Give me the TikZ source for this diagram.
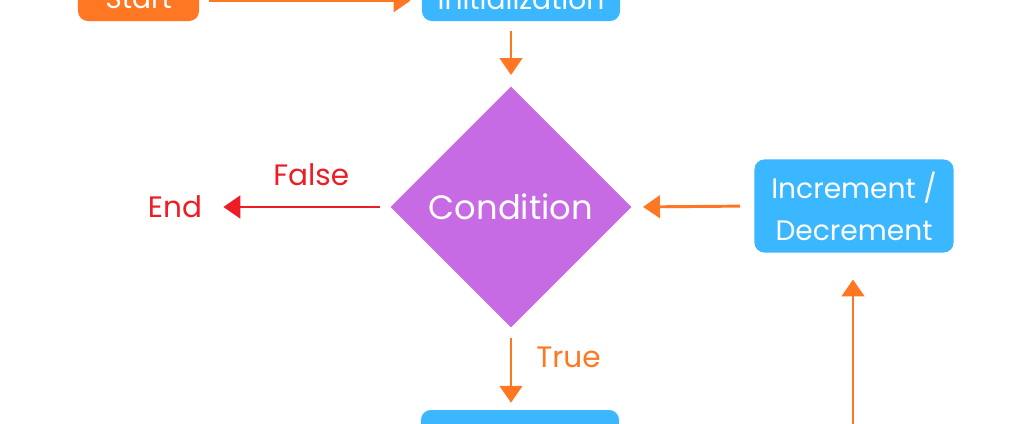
\documentclass[tikz,border=0pt]{standalone}
\usepackage{fontspec}
\setmainfont{Poppins}
\usepackage{tikz}
\usetikzlibrary{shapes.geometric}
\usetikzlibrary{arrows.meta}

\definecolor{flowOrange}{RGB}{255,119,34}
\definecolor{flowBlue}{RGB}{59,183,255}
\definecolor{flowPurple}{RGB}{199,107,229}
\definecolor{flowRed}{RGB}{238,28,37}

\tikzset{
  box/.style={rectangle, rounded corners=7pt, text=white, align=center,
    inner sep=0pt, font=\fontsize{20}{30}\selectfont},
  flow/.style={line width=2.1pt, arrows={-Triangle[width=16pt, length=12pt]},
    shorten <=7pt, shorten >=8pt},
  lbl/.style={inner sep=0pt, font=\fontsize{21}{25}\selectfont},
}

\begin{document}
\begin{tikzpicture}[x=0.025cm, y=-0.025cm]
\clip (0, 0) rectangle (1024, 423);
\fill[white] (0, 0) rectangle (1024, 423);

\node[box, fill=flowOrange, minimum width=3.025cm, minimum height=1.1cm] (box_start) at (138.5, -1) {Start};
\node[box, fill=flowBlue, minimum width=4.95cm, minimum height=1.1cm] (box_init) at (521, -1) {Initialization};
\node[diamond, fill=flowPurple, text=white, minimum width=6.025cm, minimum height=6.025cm, inner sep=0pt,
    font=\fontsize{24}{28}\selectfont] (cond) at (511, 207) {Condition};
\node[lbl, text=flowRed] (end_lbl) at (175, 207) {End};
\node[box, fill=flowBlue, minimum width=4.975cm, minimum height=2.325cm] (box_incr) at (854, 206)
    {Increment /\\Decrement};
\node[box, fill=flowBlue, minimum width=4.95cm, minimum height=1.1cm] (box_body) at (520, 432) {};
\coordinate (loop_in) at (853, 440);

\draw[flow, flowOrange] ([yshift=-1.2pt]box_start.east) -- ([yshift=-1.2pt]box_init.west);
\draw[flow, flowOrange] (cond.north |- box_init.south) -- (cond.north);
\draw[flow, flowRed, shorten >=15pt] (cond.west) -- (end_lbl.east)
    node[lbl, pos=0.42, above=14pt] (lbl_false) {False};
\draw[flow, flowOrange, shorten <=10pt] (box_incr.west) -- (cond.east);
\draw[flow, flowOrange, shorten >=5pt] (cond.south) -- (cond.south |- box_body.north)
    node[lbl, text=flowOrange, midway, right=17pt, yshift=8pt] (lbl_true) {True};
\draw[flow, flowOrange, shorten >=19pt] (loop_in) -- (loop_in |- box_incr.south);
\end{tikzpicture}
\end{document}
